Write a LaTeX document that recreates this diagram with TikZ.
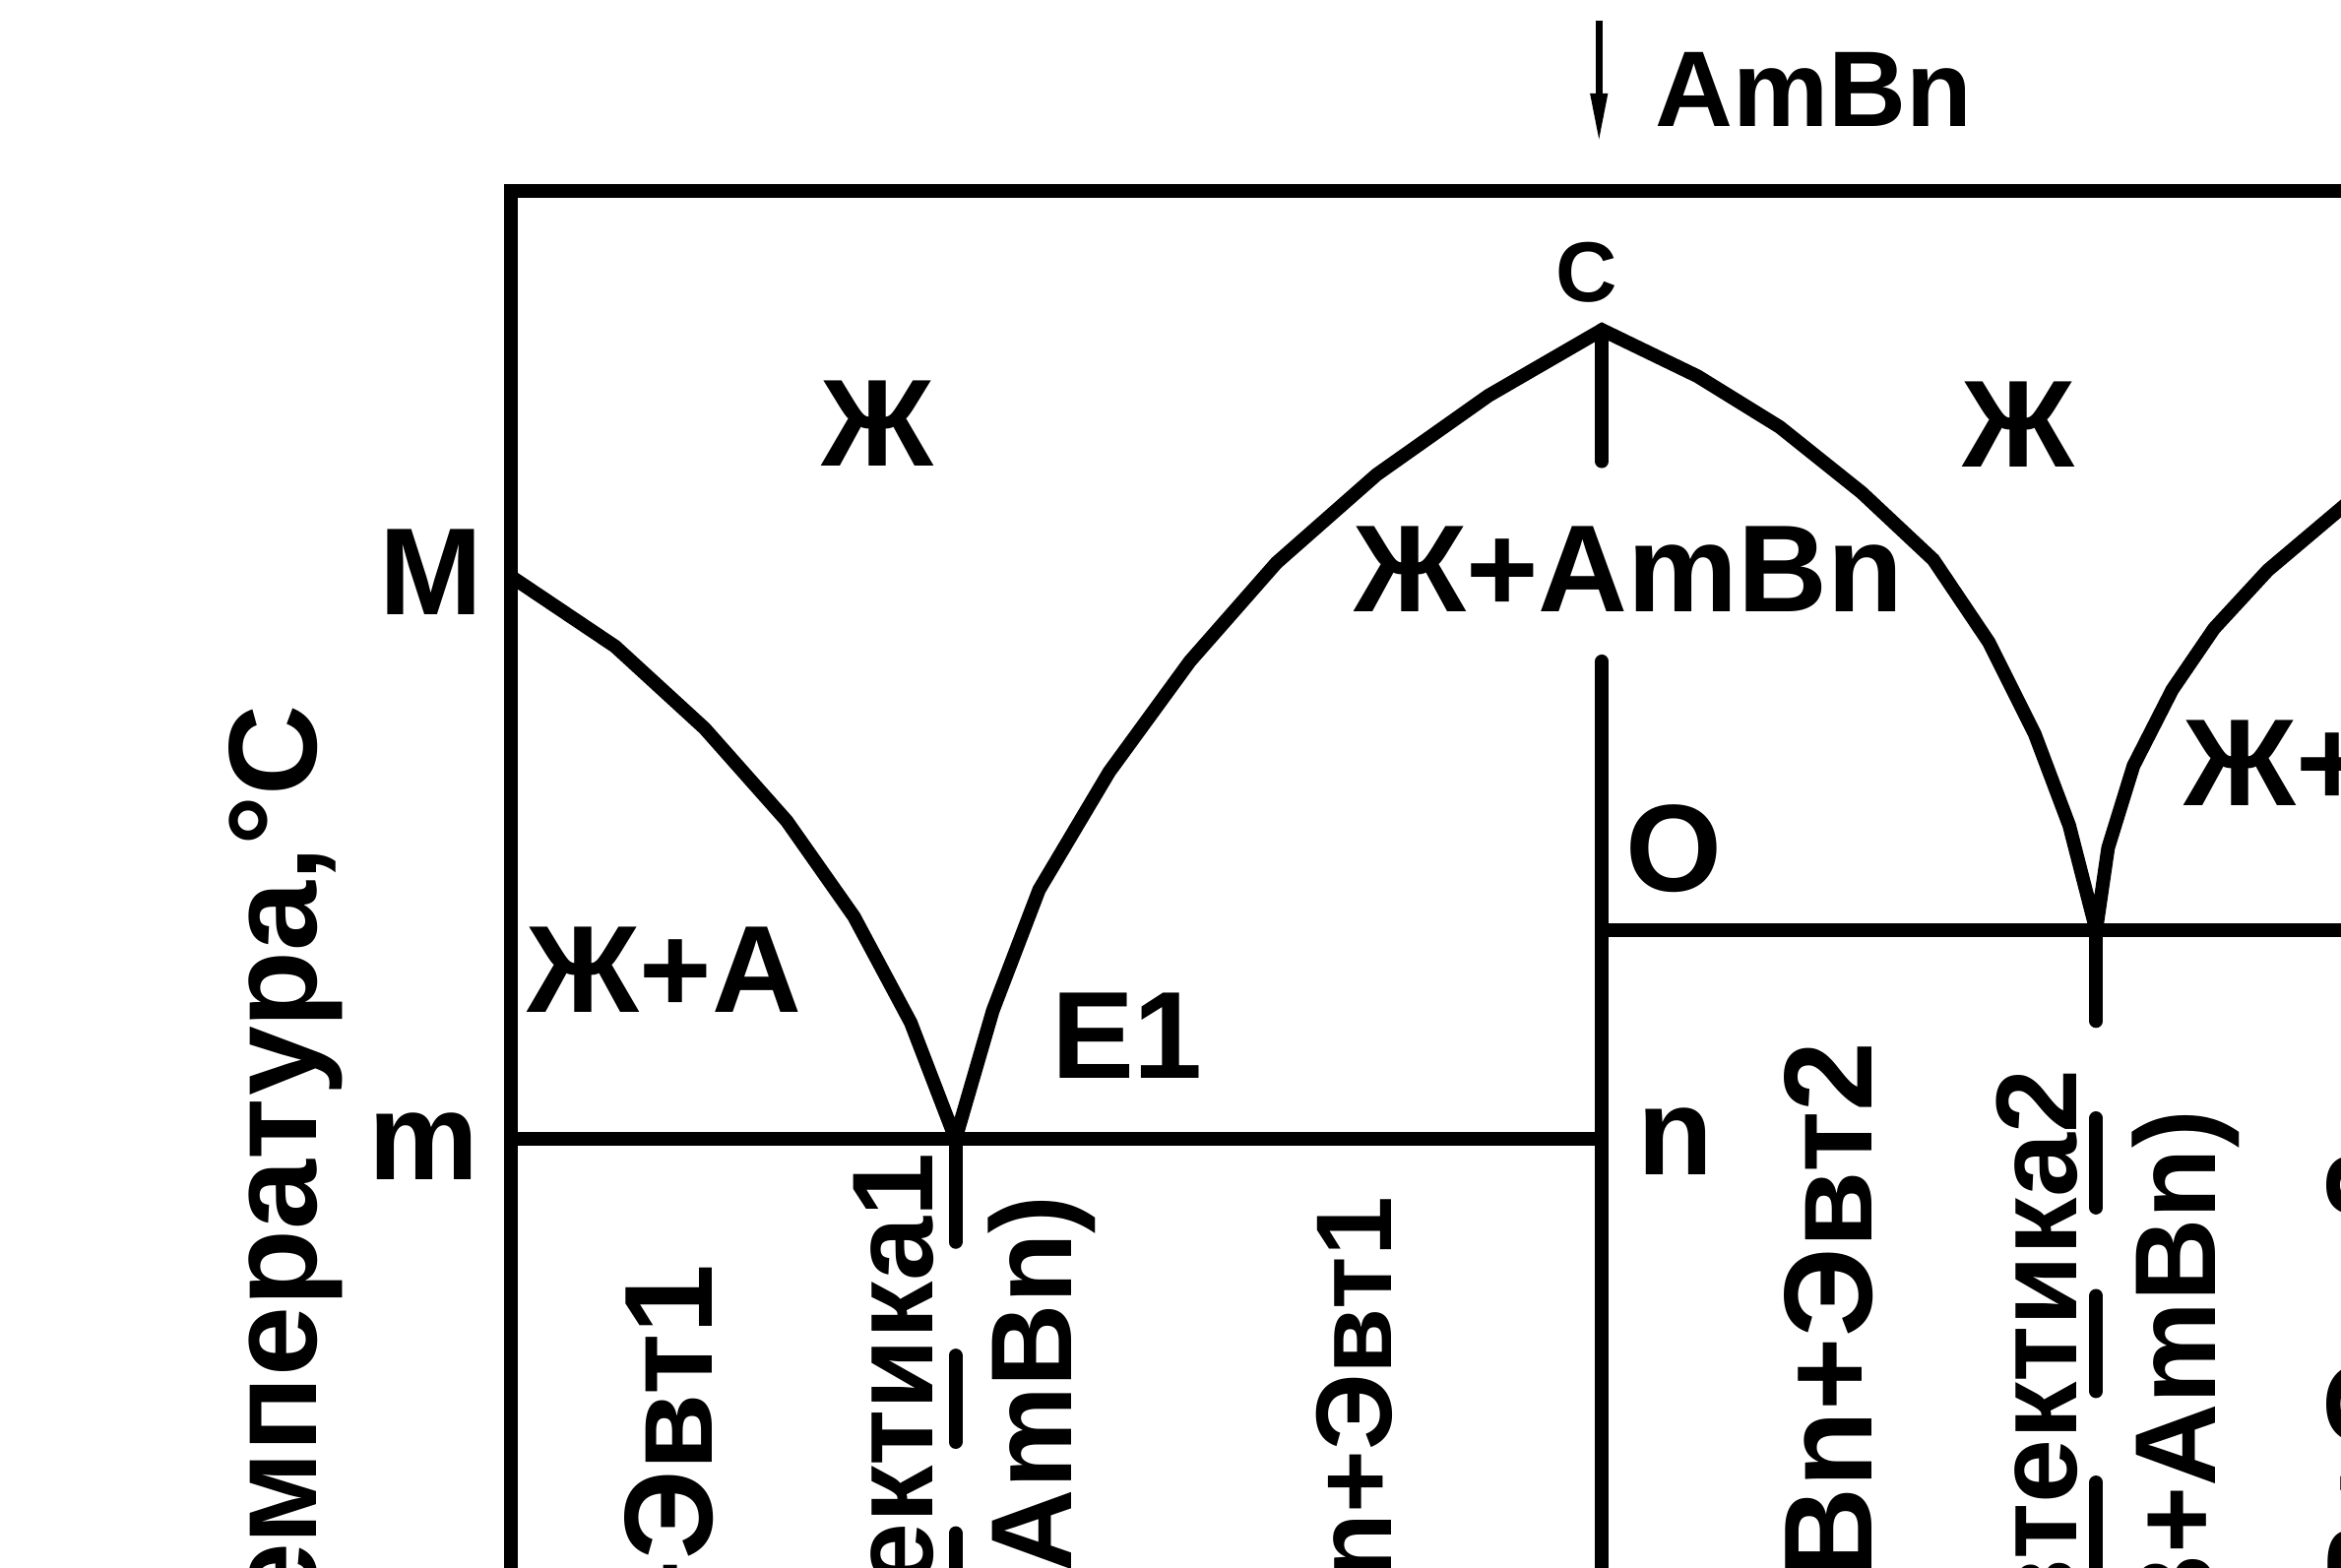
\documentclass[tikz,border=0pt]{standalone}
\usepackage{fontspec}
\setmainfont{Liberation Sans}
\usetikzlibrary{arrows.meta}
\begin{document}
\begin{tikzpicture}[x=0.01cm, y=-0.01cm,
  ln/.style={line width=2.6pt},
  rl/.style={line width=2.6pt, line cap=round},
  lbl/.style={font=\bfseries\fontsize{23.6}{28}\selectfont, inner sep=0pt, anchor=base},
  rot/.style={rotate=90, anchor=base east, inner sep=0pt},
  fA/.style={font=\bfseries\fontsize{23.9}{28}\selectfont},
  fB/.style={font=\bfseries\fontsize{21.9}{26}\selectfont},
  fC/.style={font=\bfseries\fontsize{20.5}{24}\selectfont},
]
\useasboundingbox (0,0) rectangle (1568,1050);
\clip (0,0) rectangle (1568,1050);

% key points
\coordinate (TL) at (342,128);
\coordinate (TR) at (1590,128);
\coordinate (BL) at (342,1070);
\coordinate (Mp) at (342,386);
\coordinate (E1) at (640,763);
\coordinate (Cp) at (1073,221);
\coordinate (Cbot) at (1073,309);
\coordinate (E2) at (1404,623);
\coordinate (Rend) at (1590,322);
\coordinate (mL) at (342,763);
\coordinate (nP) at (1073,763);
\coordinate (Otop) at (1073,443);
\coordinate (Obot) at (1073,1070);
\coordinate (Ol) at (1073,623);
\coordinate (Or) at (1590,623);
\coordinate (Atop) at (1071,14);
\coordinate (Atip) at (1071,96);

% frame
\draw[ln] (BL) -- (TL) -- (TR);

% liquidus
\draw[ln] (Mp) -- (412,433) -- (472,488) -- (527,550) -- (572,614) -- (610,685) -- (E1)
  -- (665,677) -- (696,596) -- (743,517) -- (797,443) -- (855,377) -- (922,318) -- (997,265) -- (Cp)
  -- (1137,252) -- (1192,286) -- (1247,330) -- (1295,375) -- (1332,430) -- (1363,492) -- (1386,553) -- (E2)
  -- (1412,568) -- (1429,513) -- (1455,462) -- (1483,421) -- (1519,382) -- (Rend);

% horizontals and verticals
\draw[ln] (mL) -- (nP);
\draw[ln] (Ol) -- (Or);
\draw[rl] (Cp) -- (Cbot);
\draw[rl] (Otop) -- (Obot);

% eutectic verticals
\draw[rl] (E1) -- (640,832);
\draw[rl] (640,908) -- (640,966);
\draw[rl] (640,1027) -- (640,1070);
\draw[rl] (E2) -- (1404,684);
\draw[rl] (1404,749) -- (1404,809);
\draw[rl] (1404,868) -- (1404,932);
\draw[rl] (1404,993) -- (1404,1070);

% composition arrow
\draw[line width=1.3pt, -{Triangle[length=9.5pt,width=3pt]}] (Atop) -- (Atip);
\node[lbl, font=\bfseries\fontsize{20.5}{24}\selectfont] (lAB) at (1215,85) {AmBn};

% labels
\node[lbl] (lM) at (289,412) {M};
\node[lbl] (lm) at (284,790) {m};
\node[lbl] (lZh1) at (588,312) {Ж};
\node[lbl] (lZh2) at (1352,313) {Ж};
\node[lbl] (lZhA) at (445,678) {Ж+A};
\node[lbl] (lE1) at (755,722) {E1};
\node[lbl] (lO) at (1121,597) {O};
\node[lbl] (ln) at (1122,787) {n};
\node[lbl] (lZhAB) at (1091,410) {Ж+AmBn};
\node[lbl, font=\bfseries\fontsize{16.2}{20}\selectfont] (lC) at (1063,202) {C};
\node[lbl, anchor=base west] (lZhR) at (1462,540) {Ж+};

% rotated labels
\node[rot, fA] (lT) at (212,472) {Температура,°C};
\node[rot, fA] (lAE) at (477,846) {A+Эвт1};
\node[rot, fB] (lEv1) at (625,772) {Эвтектика1};
\node[rot, fB] (lAAB) at (718,800) {(A+AmBn)};
\node[rot, fC] (lABE1) at (932,801) {AmBn+Эвт1};
\node[rot, fA] (lABE2) at (1254,697) {AmBn+Эвт2};
\node[rot, fB] (lEv2) at (1391,716) {Эвтектика2};
\node[rot, fB] (lBAB) at (1484,743) {(B+AmBn)};
\node[rot, fA] (lBE) at (1617,770) {B+Эвт2};
\end{tikzpicture}
\end{document}
